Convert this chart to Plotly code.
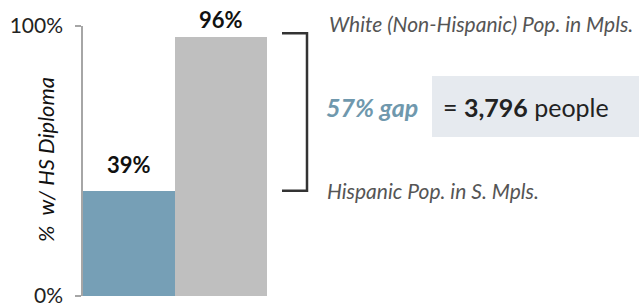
import plotly.graph_objects as go

categories = ["Hispanic Pop. in S. Mpls.", "White (Non-Hispanic) Pop. in Mpls."]
values = [39, 96]
bar_colors = ["#769fb6", "#bfbfbf"]
people_gap = "3,796"
tick_vals = [0, 100]
tick_text = ["0%", "100%"]
y_title = "%  w/ HS Diploma"

FONT = "Lato"
W, H = 639, 304
T, B = 26, 8
PH = H - T - B


def px_x(x):
    return x / W


def px_y(y):
    return (H - B - y) / PH


fig = go.Figure()
fig.add_trace(go.Bar(
    x=[0, 1], y=values,
    marker=dict(color=bar_colors, line=dict(width=0)),
    hoverinfo="skip",
))

label_shift = [11, 2]
for i, v in enumerate(values):
    fig.add_annotation(x=i, y=v, xref="x", yref="y", text=f"<b>{v}%</b>",
                       showarrow=False, yanchor="bottom", yshift=label_shift[i],
                       font=dict(family=FONT, size=22, color="#111111"))

fig.update_layout(
    width=W, height=H,
    margin=dict(l=0, r=0, t=T, b=B),
    paper_bgcolor="white", plot_bgcolor="white",
    bargap=0, showlegend=False,
    xaxis=dict(domain=[83 / W, 267 / W], range=[-0.5, 1.5],
               showticklabels=False, showgrid=False, zeroline=False,
               showline=False, ticks=""),
    yaxis=dict(range=[0, 100], tickvals=tick_vals, ticktext=tick_text,
               ticks="outside", ticklen=6, tickcolor="#a6a6a6", tickwidth=1.5,
               showline=True, linecolor="#a6a6a6", linewidth=1.5,
               showgrid=False, zeroline=False, automargin=False,
               ticklabeloverflow="allow", ticklabelstandoff=8,
               tickfont=dict(family=FONT, size=21, color="#222222")),
)

# y-axis title
fig.add_annotation(xref="paper", yref="paper", x=px_x(45), y=px_y(160),
                   text=f"<i>{y_title}</i>", textangle=-90, showarrow=False,
                   font=dict(family=FONT, size=22, color="#111111"),
                   xanchor="center", yanchor="middle")

# bracket tied to data values
lo, hi = values
fig.add_shape(type="path", xref="paper", yref="y",
              path=f"M {px_x(282)},{hi + 1.3} L {px_x(307)},{hi + 1.3} L {px_x(307)},{lo} L {px_x(282)},{lo}",
              line=dict(color="#333333", width=2.5))

# gap box
fig.add_shape(type="rect", xref="paper", yref="paper",
              x0=px_x(432), x1=1.0, y0=px_y(137), y1=px_y(76),
              fillcolor="#e6eaef", line=dict(width=0), layer="below")

# category labels
fig.add_annotation(xref="paper", yref="paper", x=px_x(327), y=px_y(23),
                   text=f"<i>{categories[1]}</i>", showarrow=False,
                   xanchor="left", yanchor="middle",
                   font=dict(family=FONT, size=21, color="#555555"))
fig.add_annotation(xref="paper", yref="paper", x=px_x(325), y=px_y(190),
                   text=f"<i>{categories[0]}</i>", showarrow=False,
                   xanchor="left", yanchor="middle",
                   font=dict(family=FONT, size=21, color="#555555"))

gap = hi - lo
fig.add_annotation(xref="paper", yref="paper", x=px_x(324), y=px_y(107),
                   text=f"<b><i>{gap}% gap</i></b>", showarrow=False,
                   xanchor="left", yanchor="middle",
                   font=dict(family=FONT, size=25, color="#6f98ad"))
fig.add_annotation(xref="paper", yref="paper", x=px_x(441), y=px_y(107),
                   text=f"= <b>{people_gap}</b> people", showarrow=False,
                   xanchor="left", yanchor="middle",
                   font=dict(family=FONT, size=25, color="#222222"))

fig.write_html("out.html", config={"displayModeBar": False},
               post_script="document.body.style.margin='0';")
